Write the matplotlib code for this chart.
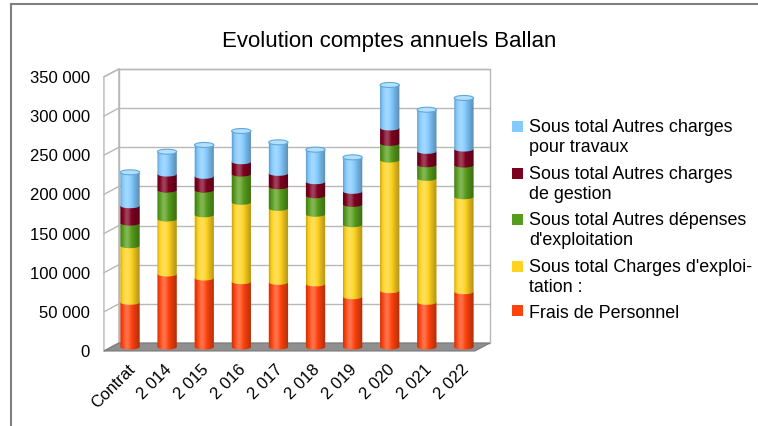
import numpy as np
import matplotlib
matplotlib.use("Agg")
import matplotlib.pyplot as plt
from matplotlib.patches import Rectangle, Ellipse, Polygon, Patch
from matplotlib.lines import Line2D
from matplotlib.legend_handler import HandlerBase
import matplotlib.transforms as mtransforms

plt.rcParams['font.family'] = ['Liberation Sans', 'DejaVu Sans']

# ---------------- data ----------------
categories = ['Contrat', '2 014', '2 015', '2 016', '2 017', '2 018', '2 019',
              '2 020', '2 021', '2 022']
frais_personnel = [57100, 93200, 88100, 83400, 82600, 80500, 64200, 71900, 57100, 70600]
charges_exploitation = [72300, 70300, 80800, 101400, 94500, 89000, 92000, 166900, 158300, 121300]
autres_depenses = [28900, 37000, 31600, 36100, 27600, 23700, 26000, 21300, 17400, 40500]
autres_gestion = [22100, 20400, 17500, 15700, 17100, 17900, 16600, 19600, 17100, 20400]
autres_travaux = [42700, 28500, 40000, 39200, 39600, 40900, 43400, 54900, 53100, 65200]
series_labels = ['Frais de Personnel',
                 "Sous total Charges d'exploi-\ntation :",
                 "Sous total Autres dépenses\nd'exploitation",
                 'Sous total Autres charges\nde gestion',
                 'Sous total Autres charges\npour travaux']
yticks = [0, 50000, 100000, 150000, 200000, 250000, 300000, 350000]
ytick_labels = ['0', '50 000', '100 000', '150 000', '200 000', '250 000', '300 000', '350 000']
title = 'Evolution comptes annuels Ballan'

series = [frais_personnel, charges_exploitation, autres_depenses, autres_gestion, autres_travaux]
colors = ['#FF420E', '#FFD320', '#579D1C', '#7E0021', '#83CAFF']

# ---------------- figure ----------------
W, H = 758, 427
fig = plt.figure(figsize=(W / 100, H / 100), dpi=100)
ax = fig.add_axes([95 / W, 1 - 360 / H, 405 / W, 304 / H])
ax.set_facecolor('none')

PXX = 1 / 37.1      # data units per pixel (x)
PXY = 1277.0        # data units per pixel (y)
dx = 7.5 * PXX      # half depth
dy = 4 * PXY
n = len(categories)
ymax = yticks[-1]
xmid_l, xmid_r = -0.5, n - 0.5
xf, xb = xmid_l - dx, xmid_l + dx
xr = xmid_r + dx
grid_c = '#b8b8b8'

# side wall
ax.add_patch(Polygon([(xf, -dy), (xb, dy), (xb, ymax + dy), (xf, ymax - dy)],
                     closed=True, facecolor='white', edgecolor=grid_c, lw=1, zorder=1))
for v in yticks:
    ax.plot([xf, xb], [v - dy, v + dy], color=grid_c, lw=1, zorder=1.1)
# back wall
ax.add_patch(Rectangle((xb, dy), xr - xb, ymax, facecolor='white', edgecolor=grid_c,
                       lw=1, zorder=1))
for v in yticks:
    ax.plot([xb, xr], [v + dy, v + dy], color=grid_c, lw=1, zorder=1.1)
# floor
ax.add_patch(Polygon([(xf, -dy), (xr - 2 * dx, -dy), (xr, dy), (xb, dy)], closed=True,
                     facecolor='#8f8f8f', edgecolor='#7a7a7a', lw=0.8, zorder=1.5))

# cylinder shading overlay
t = np.linspace(0, 1, 64)
f = np.where(t < 0.35, -0.22 * ((0.35 - t) / 0.35) ** 2, -0.32 * ((t - 0.35) / 0.65) ** 1.6)
f = f + 0.26 * np.exp(-((t - 0.35) / 0.2) ** 2)
grad = np.zeros((1, t.size, 4))
grad[0, :, :3] = np.where(f[:, None] > 0, 1.0, 0.0)
grad[0, :, 3] = np.clip(np.abs(f), 0, 1)

bw = 0.52
eh = 5 * PXY
theta = np.linspace(np.pi, 2 * np.pi, 40)
for i in range(n):
    bottom = 0
    for k, vals in enumerate(series):
        h = vals[i]
        z = 3 + k * 0.1
        arc = np.column_stack([i + bw / 2 * np.cos(theta), bottom + eh / 2 * np.sin(theta)])
        pts = np.vstack([arc, [[i + bw / 2, bottom + h], [i - bw / 2, bottom + h]]])
        seg = Polygon(pts, closed=True, facecolor=colors[k], lw=0, zorder=z)
        ax.add_patch(seg)
        im = ax.imshow(grad, extent=(i - bw / 2, i + bw / 2, bottom - eh / 2, bottom + h),
                       aspect='auto', zorder=z + 0.05, interpolation='bilinear')
        im.set_clip_path(seg)
        bottom += h
    ax.add_patch(Ellipse((i, bottom), bw, eh, facecolor='#b4e0ff', edgecolor='#5fa8dc',
                         lw=0.8, zorder=4))

ax.set_xlim(-(130 - 95) * PXX, (500 - 130) * PXX)
ax.set_ylim((348 - 360) * PXY, (348 - 56) * PXY)

for s in ax.spines.values():
    s.set_visible(False)
ax.set_yticks(yticks, ytick_labels)
ax.set_xticks(range(n), categories)
ax.tick_params(axis='y', length=0, pad=3.6, labelsize=12)
ax.tick_params(axis='x', length=0, pad=1.5, labelsize=12)
off_y = mtransforms.ScaledTranslation(0, -3 / 100, fig.dpi_scale_trans)
for tk in ax.yaxis.get_major_ticks():
    tk.label1.set_transform(tk.label1.get_transform() + off_y)
off_x = mtransforms.ScaledTranslation(-3 / 100, 0, fig.dpi_scale_trans)
for tk in ax.xaxis.get_major_ticks():
    tk.label1.set_rotation(45)
    tk.label1.set_ha('right')
    tk.label1.set_va('top')
    tk.label1.set_rotation_mode('anchor')
    tk.label1.set_transform(tk.label1.get_transform() + off_x)

fig.text(389 / W, 1 - 42 / H, title, ha='center', va='center', fontsize=16)

LINE_PT = 20 * 0.72   # line pitch inside a legend entry, in points


class TopSquare(HandlerBase):
    def __init__(self, nlines, **kw):
        super().__init__(**kw)
        self.nlines = nlines

    def create_artists(self, legend, orig_handle, xdescent, ydescent, width, height,
                       fontsize, trans):
        s = 11 * 0.72
        off = (self.nlines - 1) * 0.5 * LINE_PT
        r = Rectangle((-xdescent, -ydescent + (height - s) / 2 + off), s, s,
                      facecolor=orig_handle.get_facecolor(), lw=0, transform=trans)
        return [r]


handles = [Patch(facecolor=c) for c in colors][::-1]
labels = series_labels[::-1]
hmap = {h: TopSquare(l.count('\n') + 1) for h, l in zip(handles, labels)}
leg = fig.legend(handles, labels, handler_map=hmap, loc='upper left',
                 bbox_to_anchor=(512 / W, 1 - 119 / H), frameon=False, fontsize=12.9,
                 handlelength=0.6, handleheight=0.6, handletextpad=0.35,
                 labelspacing=0.52, borderpad=0, borderaxespad=0)
for txt in leg.get_texts():
    txt.set_linespacing(1.25)

# outer frame
fig.add_artist(Line2D([11 / W, 11 / W], [0, 1 - 5 / H], transform=fig.transFigure,
                      color='#7f7f7f', lw=1.5))
fig.add_artist(Line2D([11 / W, 1], [1 - 5 / H, 1 - 5 / H], transform=fig.transFigure,
                      color='#7f7f7f', lw=1.5))

fig.savefig('out.png', dpi=100)
